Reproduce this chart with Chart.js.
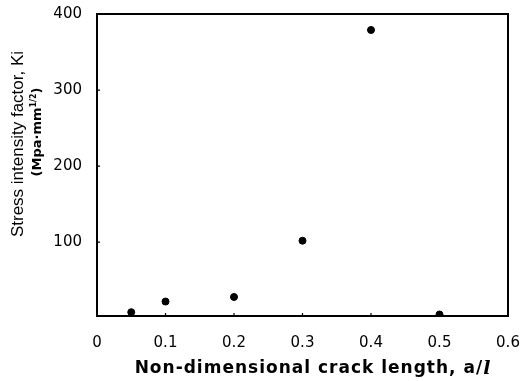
<!DOCTYPE html>
<html><head><meta charset="utf-8">
<script src="https://cdn.jsdelivr.net/npm/chart.js@4"></script>
<style>html,body{margin:0;padding:0;background:#fff}#wrap{width:520px;height:381px}</style>
</head><body><div id="wrap"><canvas id="c" width="520" height="381"></canvas></div>
<script>
const crackLength = [0.05, 0.1, 0.2, 0.3, 0.4, 0.5];
const stressFactor = [8, 22, 28, 102, 379, 5];
const xTicks = [0, 0.1, 0.2, 0.3, 0.4, 0.5, 0.6];
const yTicks = [100, 200, 300, 400];
const xTitle = 'Non-dimensional crack length, a/';
const xTitleVar = 'l';
const yTitleMain = 'Stress intensity factor, Ki';
const yTitleUnit = ['(Mpa\u00B7mm', '1/2', ')'];

function drawPieces(ctx, pieces, cx, cy, spacing) {
  let total = 0;
  ctx.letterSpacing = (spacing || 0) + 'px';
  pieces.forEach(p => { ctx.font = p[1]; p.w = ctx.measureText(p[0]).width; total += p.w; });
  let x = cx - total / 2;
  ctx.textAlign = 'left';
  ctx.textBaseline = 'middle';
  pieces.forEach(p => { ctx.font = p[1]; ctx.fillText(p[0], x, cy + p[2]); x += p.w; });
  ctx.letterSpacing = '0px';
}

const frame = {
  id: 'frame',
  afterDatasetsDraw(chart) {
    const {ctx, chartArea: a, scales} = chart;
    ctx.save();
    ctx.strokeStyle = '#000';
    ctx.lineWidth = 2;
    ctx.strokeRect(a.left, a.top, a.right - a.left, a.bottom - a.top);
    ctx.lineWidth = 1.2;
    ctx.beginPath();
    yTicks.forEach(v => { const y = scales.y.getPixelForValue(v); if (y > a.top + 2) { ctx.moveTo(a.left, y); ctx.lineTo(a.left + 3, y); } });
    xTicks.forEach(v => { const x = scales.x.getPixelForValue(v); if (x > a.left + 2 && x < a.right - 2) { ctx.moveTo(x, a.bottom); ctx.lineTo(x, a.bottom - 3); } });
    ctx.stroke();
    ctx.fillStyle = '#000';
    // x title
    drawPieces(ctx, [
      [xTitle, 'bold 17px "DejaVu Sans", sans-serif', 0],
      [xTitleVar, 'bold italic 19px "DejaVu Serif", serif', 0]
    ], 313, 369, 1);
    // y-axis title line 1
    ctx.save();
    ctx.translate(18, 144); ctx.rotate(-Math.PI / 2);
    ctx.textAlign = 'center'; ctx.textBaseline = 'middle';
    ctx.font = '17px "Liberation Sans", Arial, sans-serif';
    ctx.fillText(yTitleMain, 0, 0);
    ctx.restore();
    // y-axis title line 2
    ctx.save();
    ctx.translate(38, 132); ctx.rotate(-Math.PI / 2);
    drawPieces(ctx, [
      [yTitleUnit[0], 'bold 13px "DejaVu Sans", sans-serif', 0],
      [yTitleUnit[1], 'bold 8px "DejaVu Sans", sans-serif', -4],
      [yTitleUnit[2], 'bold 13px "DejaVu Sans", sans-serif', 0]
    ], 0, 0, 0);
    ctx.restore();
    ctx.restore();
  }
};

const tickFont = { size: 15, family: '"DejaVu Sans", sans-serif' };

new Chart(document.getElementById('c'), {
  type: 'scatter',
  data: { datasets: [{ data: crackLength.map((x, i) => ({x, y: stressFactor[i]})),
    backgroundColor: '#000', borderColor: '#000', pointRadius: 3.5, pointHoverRadius: 3.5 }] },
  options: {
    responsive: false, animation: false, devicePixelRatio: 1,
    layout: { padding: { top: 14, right: 12, left: 0, bottom: 0 } },
    plugins: { legend: { display: false }, tooltip: { enabled: false } },
    scales: {
      x: { type: 'linear', min: 0, max: 0.6,
        afterBuildTicks: s => { s.ticks = xTicks.map(v => ({value: v})); },
        afterFit: s => { s.height = 65; s.paddingLeft = 0; s.paddingRight = 0; },
        grid: { display: false, drawTicks: false }, border: { display: false },
        ticks: { padding: 18, color: '#000', font: tickFont,
          callback: v => String(v), maxRotation: 0, autoSkip: false } },
      y: { type: 'linear', min: 3, max: 400,
        afterBuildTicks: s => { s.ticks = yTicks.map(v => ({value: v})); },
        afterFit: s => { s.width = 97; s.paddingTop = 0; s.paddingBottom = 0; },
        grid: { display: false, drawTicks: false }, border: { display: false },
        ticks: { padding: 15, color: '#000', font: tickFont } }
    }
  },
  plugins: [frame]
});
</script></body></html>
